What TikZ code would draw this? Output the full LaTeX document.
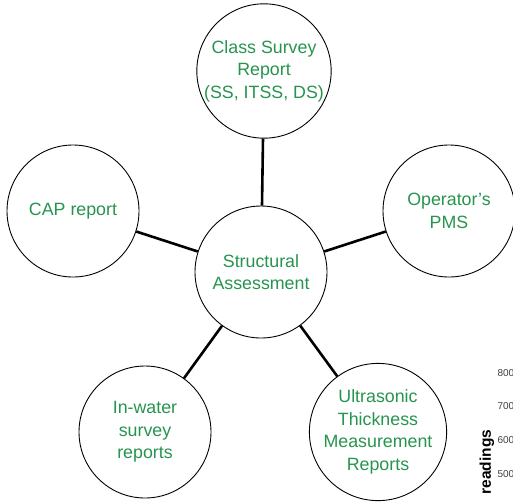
\documentclass[tikz,border=0pt]{standalone}
\usepackage{fontspec}
\setmainfont{Liberation Sans}
\definecolor{reportgreen}{RGB}{38,148,78}
\tikzset{
  report/.style={draw, circle, line width=0.9pt, minimum size=132pt, inner sep=0pt,
    align=center, text=reportgreen, font=\fontsize{17.8}{22.5}\selectfont},
  link/.style={line width=2.6pt},
  tick/.style={anchor=west, text=black!75, font=\fontsize{10}{11}\selectfont}
}
\begin{document}
\begin{tikzpicture}[x=1pt, y=-1pt]
    \useasboundingbox (0,0) rectangle (513,501);
    % centre and the five sources
    \node[report] (core) at (261,272) {Structural\\Assessment};
    \node[report] (class) at (264,71) {Class Survey\\Report\\(SS, ITSS, DS)};
    \node[report] (cap) at (73,211) {CAP report};
    \node[report] (pms) at (449,211) {Operator's\\PMS};
    \node[report] (water) at (145,432) {In-water\\survey\\reports};
    \node[report] (utm) at (378,432) {Ultrasonic\\Thickness\\Measurement\\Reports};
    \foreach \src in {class, cap, pms, water, utm}
        \draw[link] (core) -- (\src);
    % cut-off chart at the edge
    \node[rotate=90, font=\fontsize{15.5}{16}\selectfont\bfseries] (readings) at (487,462) {readings};
    \node[tick] (t800) at (494,373) {800};
    \node[tick] (t700) at (494,406) {700};
    \node[tick] (t600) at (494,440) {600};
    \node[tick] (t500) at (494,474) {500};
\end{tikzpicture}
\end{document}
